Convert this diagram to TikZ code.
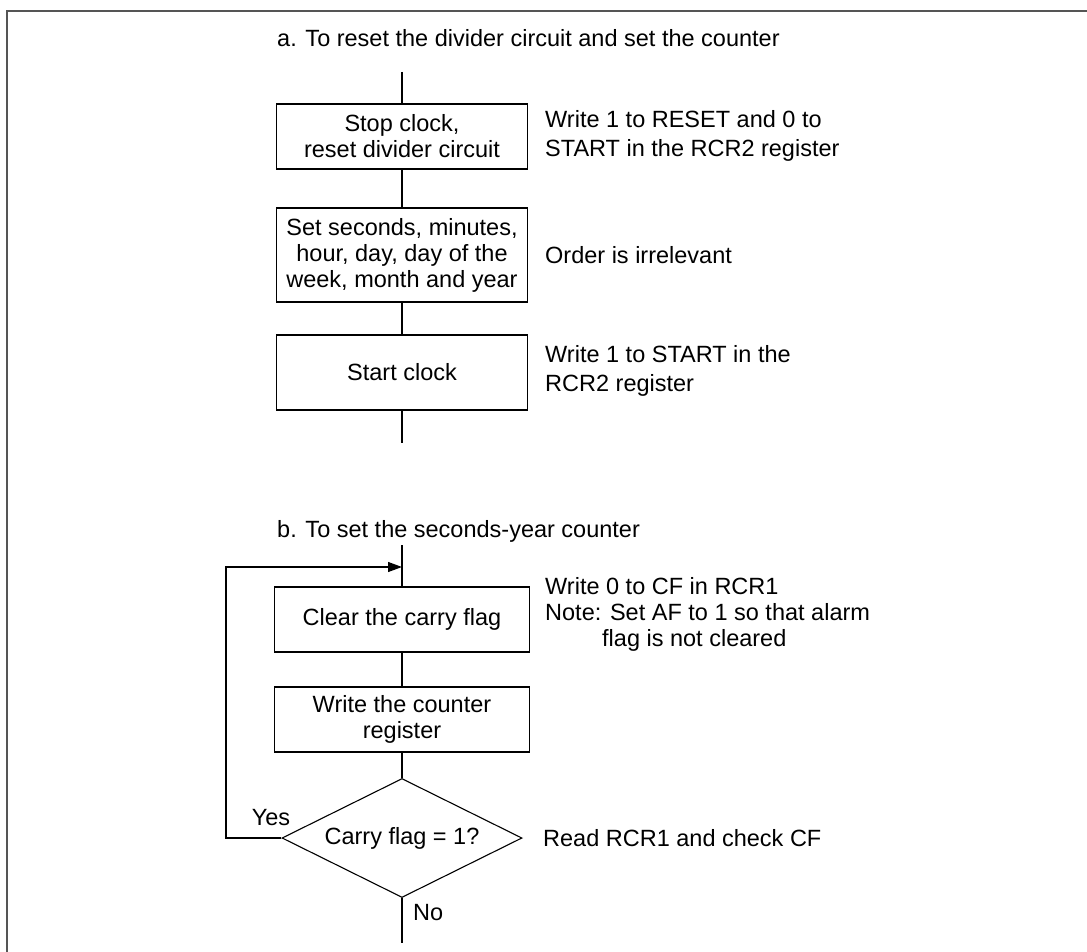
\documentclass[tikz,border=0pt]{standalone}
\usepackage{fontspec}
\setmainfont{Liberation Sans}
\usetikzlibrary{shapes.geometric,arrows.meta}
\definecolor{framecol}{HTML}{555555}
\begin{document}
\begin{tikzpicture}[x=1pt,y=-1pt,
  lw/.style={line width=1.1pt},
  stepbox/.style={draw,lw,rectangle,inner sep=0pt,align=center,font=\fontsize{23.5}{26}\selectfont},
  txt/.style={inner sep=0pt,anchor=west,align=left,font=\fontsize{23.5}{29}\selectfont},
  txtb/.style={inner sep=0pt,anchor=west,align=left,font=\fontsize{23.5}{26}\selectfont},
  lbl/.style={inner sep=0pt,font=\fontsize{23.5}{26}\selectfont},
  ttl/.style={inner sep=0pt,anchor=base west,font=\fontsize{23.5}{26}\selectfont}]
\useasboundingbox (0,0) rectangle (1087,952);
\draw[framecol,line width=1.6pt] (7,952) -- (7,11) -- (1087,11);

% part a
\node[ttl] (ta) at (277,47) {a. To reset the divider circuit and set the counter};
\coordinate (atop) at (402,72);
\node[stepbox,minimum width=251pt,minimum height=65pt] (b1) at (402,136.5) {Stop clock,\\reset divider circuit};
\node[stepbox,minimum width=251pt,minimum height=94pt] (b2) at (402,255) {Set seconds, minutes,\\hour, day, day of the\\week, month and year};
\node[stepbox,minimum width=251pt,minimum height=75pt] (b3) at (402,372.5) {Start clock};
\coordinate (aend) at (402,443);
\draw[lw] (atop) -- (b1);
\draw[lw] (b1) -- (b2);
\draw[lw] (b2) -- (b3);
\draw[lw] (b3) -- (aend);
\node[txt] (n1) at (545,136) {Write 1 to RESET and 0 to\\START in the RCR2 register};
\node[txt] (n2) at (545,255) {Order is irrelevant};
\node[txt] (n3) at (545,371) {Write 1 to START in the\\RCR2 register};

% part b
\node[ttl] (tb) at (277,537) {b. To set the seconds-year counter};
\coordinate (btop) at (402,545);
\coordinate (tip) at (402,567);
\coordinate (lc) at (226,567);
\node[stepbox,minimum width=255pt,minimum height=65pt] (b4) at (402,619.5) {Clear the carry flag};
\node[stepbox,minimum width=255pt,minimum height=65pt] (b5) at (402,719.5) {Write the counter\\register};
\node[draw,lw,diamond,aspect=2,inner sep=0pt,minimum width=240pt,minimum height=119pt,font=\fontsize{23.5}{26}\selectfont] (dia) at (402,838) {Carry flag = 1?};
\coordinate (bend) at (402,943);
\draw[lw] (btop) -- (b4);
\draw[lw] (b4) -- (b5);
\draw[lw] (b5) -- (dia);
\draw[lw] (dia) -- (bend);
\draw[lw,-{Triangle[length=14pt,width=10pt]}] (dia.west) -| (lc) -- (tip);
\node[lbl] (yes) at (271,818) {Yes};
\node[lbl,anchor=west] (no) at (413,913) {No};
\node[txtb] (n4) at (545,614) {Write 0 to CF in RCR1\\Note: Set AF to 1 so that alarm\\\hspace*{57pt}flag is not cleared};
\node[txtb] (n5) at (543,838) {Read RCR1 and check CF};
\end{tikzpicture}
\end{document}
